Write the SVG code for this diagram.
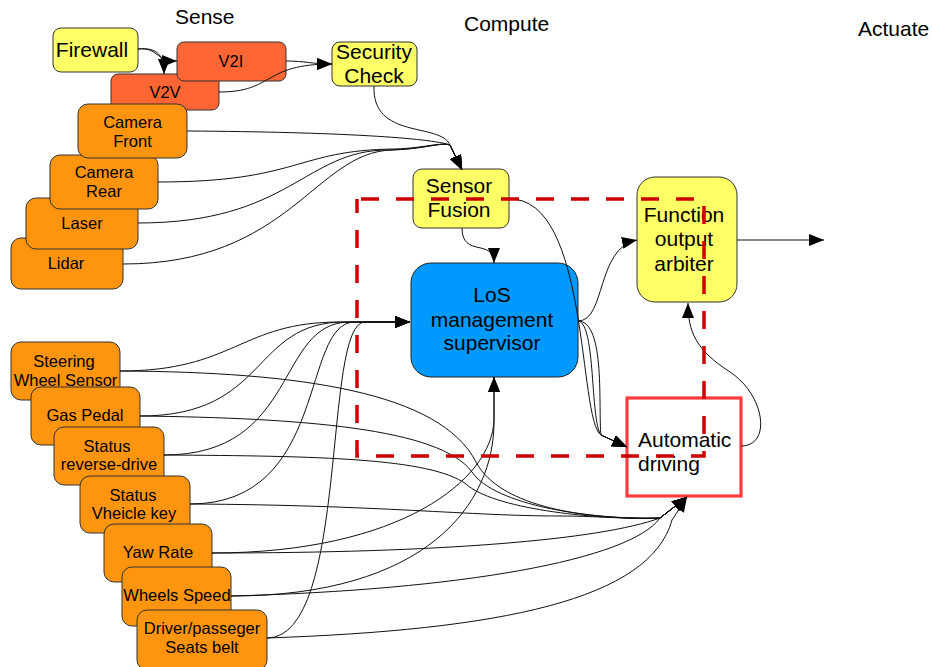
<svg xmlns="http://www.w3.org/2000/svg" width="932" height="667" viewBox="0 0 932 667">
  <style>
    text { font-family: "Liberation Sans", Arial, sans-serif; fill: #000; }
    .title { font-size: 21px; }
    .lg { font-size: 21px; text-anchor: middle; }
    .sm { font-size: 16.5px; text-anchor: middle; }
    .yellow { fill: #ffff66; stroke: #333; stroke-width: 1; }
    .orange { fill: #ff950e; stroke: #333; stroke-width: 1; }
    .redorange { fill: #ff6633; stroke: #333; stroke-width: 1; }
    .blue { fill: #0099ff; stroke: #222; stroke-width: 1; }
    .wire { fill: none; stroke: #111; stroke-width: 1; marker-end: url(#arrow); }
    .plain { fill: none; stroke: #111; stroke-width: 1; }
  </style>
  <defs>
    <marker id="arrow" markerUnits="userSpaceOnUse" markerWidth="16" markerHeight="14" refX="15" refY="6" orient="auto">
      <path d="M0,0 L15,6 L0,12 z" fill="#000"/>
    </marker>
  </defs>
  <rect width="932" height="667" fill="#fff"/>

  <!-- column headings -->
  <text class="title" x="175" y="24">Sense</text>
  <text class="title" x="464" y="31">Compute</text>
  <text class="title" x="858" y="36">Actuate</text>

  <!-- sense column, upper stack -->
  <g id="firewall">
    <rect class="yellow" x="53" y="28" width="85" height="44" rx="8"/>
    <text class="lg" x="92" y="57">Firewall</text>
  </g>
  <g id="v2v">
    <rect class="redorange" x="111" y="74" width="108" height="36" rx="7"/>
    <text class="sm" x="165" y="98">V2V</text>
  </g>
  <g id="v2i">
    <rect class="redorange" x="177" y="42" width="109" height="39" rx="7"/>
    <text class="sm" x="231" y="67">V2I</text>
  </g>
  <g id="security-check">
    <rect class="yellow" x="332" y="42" width="85" height="44" rx="8"/>
    <text class="lg" x="374" y="59">Security</text>
    <text class="lg" x="374" y="83">Check</text>
  </g>
  <g id="lidar">
    <rect class="orange" x="11" y="238" width="112" height="51" rx="10"/>
    <text class="sm" x="66" y="269">Lidar</text>
  </g>
  <g id="laser">
    <rect class="orange" x="26" y="198" width="112" height="51" rx="10"/>
    <text class="sm" x="82" y="229">Laser</text>
  </g>
  <g id="camera-rear">
    <rect class="orange" x="50" y="155" width="108" height="54" rx="10"/>
    <text class="sm" x="104" y="178">Camera</text>
    <text class="sm" x="104" y="197">Rear</text>
  </g>
  <g id="camera-front">
    <rect class="orange" x="78" y="104" width="109" height="54" rx="10"/>
    <text class="sm" x="132.5" y="128">Camera</text>
    <text class="sm" x="132.5" y="147">Front</text>
  </g>

  <!-- sense column, vehicle state stack -->
  <g id="steering-wheel-sensor">
    <rect class="orange" x="11" y="342" width="109" height="58" rx="10"/>
    <text class="sm" x="64" y="367">Steering</text>
    <text class="sm" x="65.5" y="386">Wheel Sensor</text>
  </g>
  <g id="gas-pedal">
    <rect class="orange" x="31" y="387" width="109" height="58" rx="10"/>
    <text class="sm" x="85" y="421">Gas Pedal</text>
  </g>
  <g id="status-reverse-drive">
    <rect class="orange" x="54" y="427" width="110" height="58" rx="10"/>
    <text class="sm" x="107" y="452">Status</text>
    <text class="sm" x="109" y="470">reverse-drive</text>
  </g>
  <g id="status-vehicle-key">
    <rect class="orange" x="80" y="476" width="110" height="57" rx="10"/>
    <text class="sm" x="133" y="501">Status</text>
    <text class="sm" x="134" y="519">Vheicle key</text>
  </g>
  <g id="yaw-rate">
    <rect class="orange" x="104" y="524" width="108" height="58" rx="10"/>
    <text class="sm" x="158" y="558">Yaw Rate</text>
  </g>
  <g id="wheels-speed">
    <rect class="orange" x="122" y="567" width="109" height="59" rx="10"/>
    <text class="sm" x="177" y="601">Wheels Speed</text>
  </g>
  <g id="seats-belt">
    <rect class="orange" x="137" y="610" width="130" height="60" rx="10"/>
    <text class="sm" x="202" y="634">Driver/passeger</text>
    <text class="sm" x="202" y="653">Seats belt</text>
  </g>

  <!-- compute column -->
  <g id="sensor-fusion">
    <rect class="yellow" x="413" y="169" width="96" height="59" rx="9"/>
    <text class="lg" x="459" y="193">Sensor</text>
    <text class="lg" x="459" y="217">Fusion</text>
  </g>
  <g id="los-supervisor">
    <rect class="blue" x="411" y="263" width="167" height="114" rx="20"/>
    <text class="lg" x="492" y="302">LoS</text>
    <text class="lg" x="492" y="327">management</text>
    <text class="lg" x="492" y="350">supervisor</text>
  </g>
  <g id="function-output-arbiter">
    <rect class="yellow" x="637" y="177" width="100" height="125" rx="18"/>
    <text class="lg" x="684" y="222">Function</text>
    <text class="lg" x="684" y="246">output</text>
    <text class="lg" x="684" y="271">arbiter</text>
  </g>
  <g id="automatic-driving">
    <rect x="627" y="398" width="114" height="98" fill="#fff" stroke="#ff3b3b" stroke-width="3.2"/>
    <text x="638" y="447" style="font-size:21px">Automatic</text>
    <text x="638" y="471" style="font-size:21px">driving</text>
  </g>

  <!-- connectors -->
  <g id="connectors">
    <!-- firewall to V2x links -->
    <path class="wire" d="M138,49 C158,47 155,61 177,61"/>
    <path class="wire" d="M138,49 C158,47 164,56 164,74"/>
    <!-- V2x to security check -->
    <path class="wire" d="M286,61 C305,61 312,64 332,64"/>
    <path class="wire" d="M219,92 C275,92 262,64 332,64"/>
    <!-- into sensor fusion -->
    <path class="wire" d="M374,86 C372,140 440,122 450,145 L462,170"/>
    <path class="wire" d="M187,131 C340,132 430,138 450,145 L462,170"/>
    <path class="wire" d="M158,182 C300,182 295,150 395,149 C425,148 440,142 450,145 L462,170"/>
    <path class="wire" d="M138,223 C290,223 305,150 388,150 C425,149 440,142 450,145 L462,170"/>
    <path class="wire" d="M123,264 C290,264 315,152 392,150 C425,149 440,142 450,145 L462,170"/>
    <!-- sensor fusion to supervisor -->
    <path class="wire" d="M462,228 C462,258 494,238 494,263"/>
    <!-- into automatic driving (left side) -->
    <path class="wire" d="M509,199 C590,197 578,420 601,435 L627,447"/>
    <path class="wire" d="M578,321 C606,321 598,410 601,435 L627,447"/>
    <path class="wire" d="M578,321 C596,323 590,420 601,435 L627,447"/>
    <!-- supervisor to arbiter -->
    <path class="wire" d="M578,321 C606,321 596,248 637,240"/>
    <!-- arbiter output -->
    <path class="wire" d="M737,240 L824,240"/>
    <!-- automatic driving back to arbiter -->
    <path class="wire" d="M741,446 C772,446 765,395 730,372 C696,350 688,332 688,303"/>

    <!-- vehicle state to supervisor (left) -->
    <path class="wire" d="M120,371 C235,371 240,322 340,322 L410,322"/>
    <path class="wire" d="M140,416 C270,416 250,322 345,322 L410,322"/>
    <path class="wire" d="M164,455 C300,455 275,322 350,322 L410,322"/>
    <path class="wire" d="M190,504 C330,504 300,322 355,322 L410,322"/>
    <path class="wire" d="M267,638 C350,638 322,322 365,322 L410,322"/>
    <!-- vehicle state to supervisor (bottom) -->
    <path class="wire" d="M212,553 C400,553 492,480 494,420 L494,377"/>
    <path class="wire" d="M231,596 C425,596 495,505 494,420 L494,377"/>

    <!-- vehicle state to automatic driving -->
    <path class="wire" d="M120,371 C300,372 440,392 476,462 C500,508 590,520 660,518 L687,497"/>
    <path class="wire" d="M140,416 C300,418 440,428 472,472 C494,505 590,520 660,518 L687,497"/>
    <path class="wire" d="M164,455 C320,456 430,458 466,484 C492,508 590,520 660,518 L687,497"/>
    <path class="wire" d="M190,504 C380,505 470,516 560,516 C600,516 640,520 660,518 L687,497"/>
    <path class="wire" d="M212,553 C440,553 600,540 660,518 L687,497"/>
    <path class="wire" d="M231,596 C460,590 630,560 660,518 L687,497"/>
    <path class="wire" d="M267,638 C500,630 650,600 672,520 L687,497"/>
  </g>

  <!-- dashed boundary drawn over everything -->
  <rect id="compute-boundary" x="357" y="199" width="347" height="257" fill="none" stroke="#cc0000" stroke-width="3.5" stroke-dasharray="18 17" stroke-dashoffset="-4"/>
</svg>
